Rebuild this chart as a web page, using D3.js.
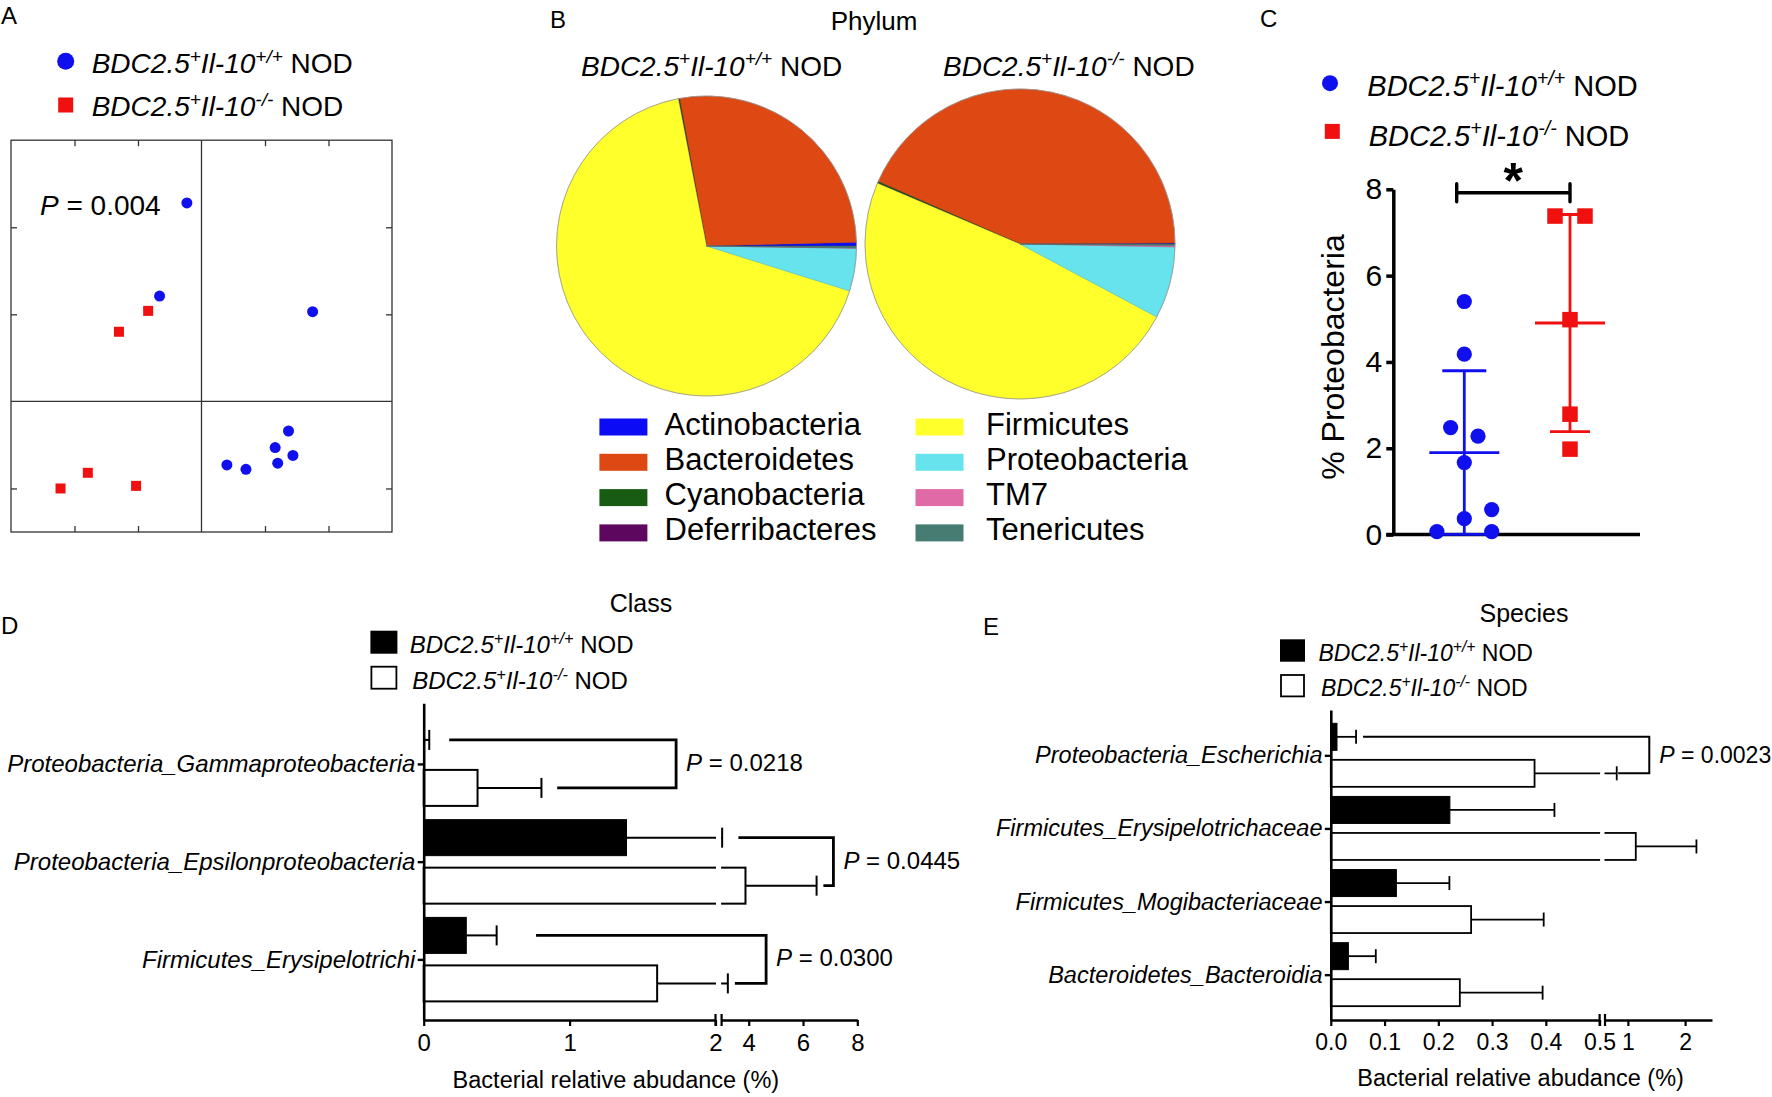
<!DOCTYPE html>
<html><head><meta charset="utf-8">
<script src="https://cdn.jsdelivr.net/npm/d3@7/dist/d3.min.js"></script>
<style>
html,body{margin:0;padding:0;background:#fff;}
svg{display:block;}
</style></head>
<body>
<svg id="fig" width="1772" height="1097" xmlns="http://www.w3.org/2000/svg"></svg>
<script>
// ================= DATA =================
const genotypeSup = ["+/+", "-/-"];

// Panel A : PCoA coordinates
const pcoaWT_x = [-0.23, -0.66, 1.75, 1.37, 1.16, 1.44, 1.20, 0.40, 0.70];
const pcoaWT_y = [2.28, 1.21, 1.03, -0.34, -0.53, -0.62, -0.71, -0.73, -0.78];
const pcoaKO_x = [-0.84, -1.30, -1.79, -2.22, -1.03];
const pcoaKO_y = [1.04, 0.80, -0.82, -1.00, -0.97];
const pcoaP = "0.004";

// Panel B : phylum composition (%)
const phyla = ["Actinobacteria","Bacteroidetes","Cyanobacteria","Deferribacteres","Firmicutes","Proteobacteria","TM7","Tenericutes"];
const phylaColors = ["#0B0BF5","#DD4813","#185C14","#5E075E","#FFFF2B","#66E3EC","#E06AA6","#467C72"];
const phylumWT = [0.4, 27.5, 0.1, 0.05, 67.2, 4.6, 0.05, 0.2];
const phylumKO = [0.1, 43.3, 0.15, 0.05, 48.6, 7.5, 0.15, 0.15];

// Panel C : % Proteobacteria per mouse
const protWT = [5.40, 4.18, 2.48, 2.28, 1.67, 0.58, 0.37, 0.07, 0.07];
const protWTcol = [0, 0, -1, 1, 0, 2, 0, -2, 2];
const protKO = [7.38, 7.38, 4.98, 2.79, 1.98];
const protKOcol = [-1, 1, 0, 0, 0];
const protTicks = [0, 2, 4, 6, 8];

// Panel D : class
const classCats = ["Proteobacteria_Gammaproteobacteria","Proteobacteria_Epsilonproteobacteria","Firmicutes_Erysipelotrichi"];
const classWT = [0.005, 1.39, 0.292];
const classWTerr = [0.033, 1.63, 0.208];
const classKO = [0.369, 3.88, 1.60];
const classKOerr = [0.438, 2.62, 1.63];
const classP = ["0.0218", "0.0445", "0.0300"];
const classBrTop = [0.175, 3.62, 0.77];
const classBrBot = [0.915, 6.75, 3.49];
const classBrX = [1.73, 7.12, 4.64];
const classTicks1 = [0, 1, 2];
const classTicks2 = [4, 6, 8];

// Panel E : species
const speciesCats = ["Proteobacteria_Escherichia","Firmicutes_Erysipelotrichaceae","Firmicutes_Mogibacteriaceae","Bacteroidetes_Bacteroidia"];
const speciesWT = [0.0115, 0.2215, 0.122, 0.0327];
const speciesWTerr = [0.0355, 0.1945, 0.0986, 0.051];
const speciesKO = [0.379, 1.138, 0.261, 0.240];
const speciesKOerr = [0.426, 1.06, 0.135, 0.154];
const speciesP = ["0.0023", null, null, null];
const speciesBrTop = [0.06, null, null, null];
const speciesBrBot = [0.83, null, null, null];
const speciesBrX = [1.374, null, null, null];
const speciesTicks1 = [0, 0.1, 0.2, 0.3, 0.4, 0.5];
const speciesTicks2 = [1, 2];

// ================= HELPERS =================
const FONT = '"Liberation Sans", Arial, Helvetica, sans-serif';
const BLUE = "#1010EE", RED = "#F01010";
const svg = d3.select("#fig").attr("font-family", FONT);

function label(parent, x, y, txt, size, opts = {}) {
  const t = parent.append("text").attr("x", x).attr("y", y).attr("font-size", size).text(txt);
  if (opts.anchor) t.attr("text-anchor", opts.anchor);
  if (opts.italic) t.attr("font-style", "italic");
  if (opts.weight) t.attr("font-weight", opts.weight);
  return t;
}
function geno(parent, x, y, size, sup) {
  const t = parent.append("text").attr("x", x).attr("y", y).attr("font-size", size);
  const s = size * 0.68, up = size * 0.38;
  t.append("tspan").attr("font-style", "italic").text("BDC2.5");
  t.append("tspan").attr("font-style", "italic").attr("font-size", s).attr("dy", -up).text("+");
  t.append("tspan").attr("font-style", "italic").attr("dy", up).text("Il-10");
  t.append("tspan").attr("font-style", "italic").attr("font-size", s).attr("dy", -up).text(sup);
  t.append("tspan").attr("dy", up).text(" NOD");
  return t;
}
function pText(parent, x, y, size, val) {
  const t = parent.append("text").attr("x", x).attr("y", y).attr("font-size", size);
  t.append("tspan").attr("font-style", "italic").text("P");
  t.append("tspan").text(" = " + val);
  return t;
}

// ================= PANEL A =================
{
  const g = svg.append("g");
  label(g, 1, 24, "A", 24);
  const xA = d3.scaleLinear().domain([-3, 3]).range([11, 392]);
  const yA = d3.scaleLinear().domain([-1.5, 3]).range([532, 140.2]);
  const st = "#333";
  g.append("rect").attr("x", xA(-3)).attr("y", yA(3)).attr("width", xA(3) - xA(-3)).attr("height", yA(-1.5) - yA(3))
    .attr("fill", "none").attr("stroke", st).attr("stroke-width", 1.3);
  g.append("line").attr("x1", xA(0)).attr("x2", xA(0)).attr("y1", yA(3)).attr("y2", yA(-1.5)).attr("stroke", st).attr("stroke-width", 1.3);
  g.append("line").attr("x1", xA(-3)).attr("x2", xA(3)).attr("y1", yA(0)).attr("y2", yA(0)).attr("stroke", st).attr("stroke-width", 1.3);
  const tk = sel => { sel.select(".domain").remove(); sel.selectAll(".tick line").attr("stroke", st).attr("stroke-width", 1.3); };
  g.append("g").attr("transform", `translate(0,${yA(3)})`).call(d3.axisBottom(xA).tickValues([-2, -1, 1, 2]).tickSize(6).tickFormat("")).call(tk);
  g.append("g").attr("transform", `translate(0,${yA(-1.5)})`).call(d3.axisTop(xA).tickValues([-2, -1, 1, 2]).tickSize(6).tickFormat("")).call(tk);
  g.append("g").attr("transform", `translate(${xA(-3)},0)`).call(d3.axisRight(yA).tickValues([-1, 1, 2]).tickSize(6).tickFormat("")).call(tk);
  g.append("g").attr("transform", `translate(${xA(3)},0)`).call(d3.axisLeft(yA).tickValues([-1, 1, 2]).tickSize(6).tickFormat("")).call(tk);
  g.selectAll("circle.wt").data(d3.zip(pcoaWT_x, pcoaWT_y)).join("circle").attr("class", "wt")
    .attr("cx", d => xA(d[0])).attr("cy", d => yA(d[1])).attr("r", 5.5).attr("fill", BLUE);
  const sq = 10;
  g.selectAll("rect.ko").data(d3.zip(pcoaKO_x, pcoaKO_y)).join("rect").attr("class", "ko")
    .attr("x", d => xA(d[0]) - sq / 2).attr("y", d => yA(d[1]) - sq / 2).attr("width", sq).attr("height", sq).attr("fill", RED);
  pText(g, 40, 215, 28, pcoaP);
  // legend
  g.append("circle").attr("cx", 65.7).attr("cy", 61.3).attr("r", 8.5).attr("fill", BLUE);
  g.append("rect").attr("x", 58.2).attr("y", 97.5).attr("width", 15).attr("height", 15).attr("fill", RED);
  geno(g, 91.7, 73.3, 28, genotypeSup[0]);
  geno(g, 91.7, 116.4, 28, genotypeSup[1]);
}

// ================= PANEL B =================
{
  const g = svg.append("g");
  label(g, 550, 28, "B", 24);
  label(g, 874, 30.4, "Phylum", 26, { anchor: "middle" });
  geno(g, 581, 75.7, 28, genotypeSup[0]);
  geno(g, 943, 75.7, 28, genotypeSup[1]);
  const pie = d3.pie().sort(null).value(d => d).startAngle(Math.PI / 2).endAngle(Math.PI / 2 - 2 * Math.PI);
  const pies = [
    { vals: phylumWT, cx: 706.5, cy: 246, r: 150 },
    { vals: phylumKO, cx: 1020, cy: 244, r: 155 }
  ];
  pies.forEach(p => {
    const arc = d3.arc().innerRadius(0).outerRadius(p.r);
    const pg = g.append("g").attr("transform", `translate(${p.cx},${p.cy})`);
    pg.selectAll("path").data(pie(p.vals)).join("path")
      .attr("d", arc)
      .attr("fill", (d, i) => phylaColors[i])
      .attr("stroke", (d, i) => d3.color(phylaColors[i]).darker(0.6))
      .attr("stroke-width", 0.5);
    pg.append("circle").attr("r", p.r).attr("fill", "none").attr("stroke", "#9a9a9a").attr("stroke-width", 0.8);
  });
  // legend
  const colX = [599.4, 915.5], txtX = [664.5, 986];
  phyla.forEach((name, i) => {
    const col = Math.floor(i / 4), row = i % 4;
    const top = 418.5 + row * 35.3;
    g.append("rect").attr("x", colX[col]).attr("y", top).attr("width", 48).attr("height", 17).attr("fill", phylaColors[i]);
    label(g, txtX[col], top + 16, name, 31);
  });
}

// ================= PANEL C =================
{
  const g = svg.append("g");
  label(g, 1260, 27, "C", 24);
  g.append("circle").attr("cx", 1330).attr("cy", 83.2).attr("r", 8).attr("fill", BLUE);
  g.append("rect").attr("x", 1324.8).attr("y", 123.9).attr("width", 15).attr("height", 15).attr("fill", RED);
  geno(g, 1367.3, 96.4, 29, genotypeSup[0]);
  geno(g, 1368.7, 145.7, 29, genotypeSup[1]);

  const yC = d3.scaleLinear().domain([0, 8]).range([534.6, 189.3]);
  const xC = d3.scalePoint().domain(["wt", "ko"]).range([1464.3, 1570]);
  const axisX = 1393.3;
  const ax = g.append("g").attr("transform", `translate(${axisX},0)`)
    .call(d3.axisLeft(yC).tickValues(protTicks).tickSize(7).tickPadding(4).tickSizeOuter(0));
  ax.attr("font-family", FONT).attr("font-size", 30);
  ax.select(".domain").attr("stroke-width", 3.5).attr("stroke", "#000");
  ax.selectAll(".tick line").attr("stroke-width", 3.5).attr("stroke", "#000");
  ax.selectAll(".tick text").attr("fill", "#000");
  g.append("line").attr("x1", axisX - 7).attr("x2", 1640).attr("y1", yC(0)).attr("y2", yC(0))
    .attr("stroke", "#000").attr("stroke-width", 3.5);
  g.append("text").attr("transform", "translate(1344,357) rotate(-90)").attr("text-anchor", "middle")
    .attr("font-size", 32).text("% Proteobacteria");

  const groupsC = [
    { key: "wt", vals: protWT, cols: protWTcol, color: BLUE, step: 13.7, capW: 22 },
    { key: "ko", vals: protKO, cols: protKOcol, color: RED, step: 15, capW: 20 }
  ];
  groupsC.forEach(gr => {
    const cx = xC(gr.key);
    const m = d3.mean(gr.vals), sd = d3.deviation(gr.vals);
    const lo = Math.max(0, m - sd), hi = m + sd;
    const lw = 2.8;
    g.append("line").attr("x1", cx).attr("x2", cx).attr("y1", yC(lo)).attr("y2", yC(hi)).attr("stroke", gr.color).attr("stroke-width", lw);
    [lo, hi].forEach(v => g.append("line").attr("x1", cx - gr.capW).attr("x2", cx + gr.capW).attr("y1", yC(v)).attr("y2", yC(v)).attr("stroke", gr.color).attr("stroke-width", lw));
    g.append("line").attr("x1", cx - 35).attr("x2", cx + 35).attr("y1", yC(m)).attr("y2", yC(m)).attr("stroke", gr.color).attr("stroke-width", lw);
    if (gr.key === "wt") {
      g.selectAll("circle.pw").data(gr.vals).join("circle").attr("class", "pw")
        .attr("cx", (d, i) => cx + gr.cols[i] * gr.step).attr("cy", d => yC(d)).attr("r", 7.6).attr("fill", gr.color);
    } else {
      const s = 15.5;
      g.selectAll("rect.pk").data(gr.vals).join("rect").attr("class", "pk")
        .attr("x", (d, i) => cx + gr.cols[i] * gr.step - s / 2).attr("y", d => yC(d) - s / 2)
        .attr("width", s).attr("height", s).attr("fill", gr.color);
    }
  });
  // significance bracket
  const bx1 = xC("wt") - 7.6, bx2 = xC("ko"), by = yC(7.92);
  g.append("path").attr("d", `M${bx1},${by - 9}V${by + 9}M${bx1},${by}H${bx2}M${bx2},${by - 9}V${by + 9}`)
    .attr("stroke", "#000").attr("stroke-width", 3.4).attr("fill", "none").attr("stroke-linecap", "round");
  g.append("text").attr("x", (bx1 + bx2) / 2).attr("y", 198).attr("text-anchor", "middle")
    .attr("font-size", 50).attr("font-weight", "bold").text("*");
}

// ================= PANELS D & E =================
function hbarPanel(o) {
  const g = svg.append("g");
  label(g, o.letterX, o.letterY, o.letter, 24);
  label(g, o.titleX, o.titleY, o.title, 25, { anchor: "middle" });
  // legend
  g.append("rect").attr("x", o.legX).attr("y", o.legY[0]).attr("width", o.legW).attr("height", o.legH).attr("fill", "#000");
  g.append("rect").attr("x", o.legX + 1).attr("y", o.legY[1]).attr("width", o.legW - 2).attr("height", o.legH - 1)
    .attr("fill", "#fff").attr("stroke", "#000").attr("stroke-width", 1.8);
  geno(g, o.legTX, o.legTY[0], o.legFont, genotypeSup[0]);
  geno(g, o.legTX + 2.5, o.legTY[1], o.legFont, genotypeSup[1]);

  const s1 = d3.scaleLinear().domain(o.seg1).range(o.rng1);
  const s2 = d3.scaleLinear().domain(o.seg2).range(o.rng2);
  const xs = v => (v <= o.seg1[1] ? s1(v) : s2(v));
  const y = d3.scalePoint().domain(o.cats).range([o.top, o.axisY]).padding(0.62);
  const x0 = s1(0);
  const wtC = c => y(c) + o.wtOff + o.barH / 2;
  const koC = c => y(c) + o.koOff + o.barH / 2;

  // bars
  g.selectAll("rect.wt").data(o.cats).join("rect").attr("class", "wt")
    .attr("x", x0).attr("y", c => y(c) + o.wtOff).attr("width", (c, i) => xs(o.wt[i]) - x0).attr("height", o.barH)
    .attr("fill", "#000").attr("stroke", "#000").attr("stroke-width", 1);
  g.selectAll("rect.ko").data(o.cats).join("rect").attr("class", "ko")
    .attr("x", x0).attr("y", c => y(c) + o.koOff).attr("width", (c, i) => xs(o.ko[i]) - x0).attr("height", o.barH)
    .attr("fill", "#fff").attr("stroke", "#000").attr("stroke-width", o.lw);
  // whiskers
  const err = [];
  o.cats.forEach((c, i) => {
    err.push({ y: wtC(c), a: o.wt[i], b: o.wt[i] + o.wtErr[i] });
    err.push({ y: koC(c), a: o.ko[i], b: o.ko[i] + o.koErr[i] });
  });
  g.selectAll("line.wh").data(err).join("line").attr("class", "wh")
    .attr("x1", d => xs(d.a)).attr("x2", d => xs(d.b)).attr("y1", d => d.y).attr("y2", d => d.y)
    .attr("stroke", "#000").attr("stroke-width", o.lw);
  // axis break mask
  const bA = s1(o.seg1[1]), bB = s2(o.seg2[0]);
  g.append("rect").attr("x", bA + 0.5).attr("y", o.top).attr("width", bB - bA - 1).attr("height", o.axisY - o.top - 4).attr("fill", "#fff");
  // caps
  g.selectAll("line.cap").data(err).join("line").attr("class", "cap")
    .attr("x1", d => xs(d.b)).attr("x2", d => xs(d.b)).attr("y1", d => d.y - o.capH / 2).attr("y2", d => d.y + o.capH / 2)
    .attr("stroke", "#000").attr("stroke-width", o.lw);
  // brackets + P values
  o.cats.forEach((c, i) => {
    if (o.p[i] == null) return;
    const yt = wtC(c), yb = koC(c), bx = xs(o.brX[i]);
    g.append("path").attr("d", `M${xs(o.brTop[i])},${yt}H${bx}V${yb}H${xs(o.brBot[i])}`)
      .attr("fill", "none").attr("stroke", "#000").attr("stroke-width", o.brW);
    pText(g, bx + 10, (yt + yb) / 2 + o.pDy, o.pFont, o.p[i]);
  });
  // axes
  const ay = g.append("g").attr("transform", `translate(${x0},0)`)
    .call(d3.axisLeft(y).tickSize(6).tickPadding(o.catPad).tickSizeOuter(0));
  ay.attr("font-family", FONT).attr("font-size", o.catFont);
  ay.selectAll(".tick text").attr("font-style", "italic").attr("fill", "#000");
  ay.select(".domain").attr("stroke-width", 2.6).attr("stroke", "#000");
  ay.selectAll(".tick line").attr("stroke-width", 2.4).attr("stroke", "#000");
  [[s1, o.ticks1, o.fmt1], [s2, o.ticks2, o.fmt2]].forEach(([sc, tv, fm]) => {
    const ax = g.append("g").attr("transform", `translate(0,${o.axisY})`)
      .call(d3.axisBottom(sc).tickValues(tv).tickFormat(fm).tickSize(6).tickPadding(o.tickPad).tickSizeOuter(0));
    ax.attr("font-family", FONT).attr("font-size", o.tickFont);
    ax.select(".domain").attr("stroke-width", 2.6).attr("stroke", "#000");
    ax.selectAll(".tick line").attr("stroke-width", 2.2).attr("stroke", "#000");
    ax.selectAll(".tick text").attr("fill", "#000");
  });
  [bA, bB].forEach(bx => g.append("line").attr("x1", bx).attr("x2", bx).attr("y1", o.axisY - 6).attr("y2", o.axisY + 6)
    .attr("stroke", "#000").attr("stroke-width", 2.2));
  label(g, o.xlabX, o.xlabY, "Bacterial relative abudance (%)", 23.5, { anchor: "middle" });
}

hbarPanel({
  letter: "D", letterX: 1, letterY: 634, title: "Class", titleX: 641, titleY: 612,
  legX: 370.4, legY: [630.7, 666.7], legW: 27, legH: 23, legTX: 409.7, legTY: [652.7, 689.3], legFont: 24,
  cats: classCats, wt: classWT, wtErr: classWTerr, ko: classKO, koErr: classKOerr,
  p: classP, brTop: classBrTop, brBot: classBrBot, brX: classBrX,
  seg1: [0, 2], rng1: [423.7, 715.5], seg2: [3, 8], rng2: [721.6, 857.3],
  ticks1: classTicks1, ticks2: classTicks2, fmt1: d3.format("d"), fmt2: d3.format("d"),
  top: 703.3, axisY: 1020, barH: 36, wtOff: -42, koOff: 6, capH: 20, lw: 2, brW: 2.8,
  catFont: 24, catPad: 2.3, tickFont: 24, tickPad: 7.5, pFont: 24, pDy: 7,
  xlabX: 615.9, xlabY: 1088
});

hbarPanel({
  letter: "E", letterX: 983, letterY: 635, title: "Species", titleX: 1524, titleY: 621.7,
  legX: 1280, legY: [639.3, 675], legW: 25, legH: 22.4, legTX: 1318.4, legTY: [660.7, 696], legFont: 23,
  cats: speciesCats, wt: speciesWT, wtErr: speciesWTerr, ko: speciesKO, koErr: speciesKOerr,
  p: speciesP, brTop: speciesBrTop, brBot: speciesBrBot, brX: speciesBrX,
  seg1: [0, 0.5], rng1: [1330.8, 1599.6], seg2: [0.6, 2.47], rng2: [1605, 1712],
  ticks1: speciesTicks1, ticks2: speciesTicks2, fmt1: d3.format(".1f"), fmt2: d3.format("d"),
  top: 710, axisY: 1020, barH: 27, wtOff: -32, koOff: 4.5, capH: 14, lw: 1.8, brW: 2,
  catFont: 23.5, catPad: 2.3, tickFont: 23, tickPad: 8, pFont: 23, pDy: 8,
  xlabX: 1520.6, xlabY: 1086
});
</script>
</body></html>
